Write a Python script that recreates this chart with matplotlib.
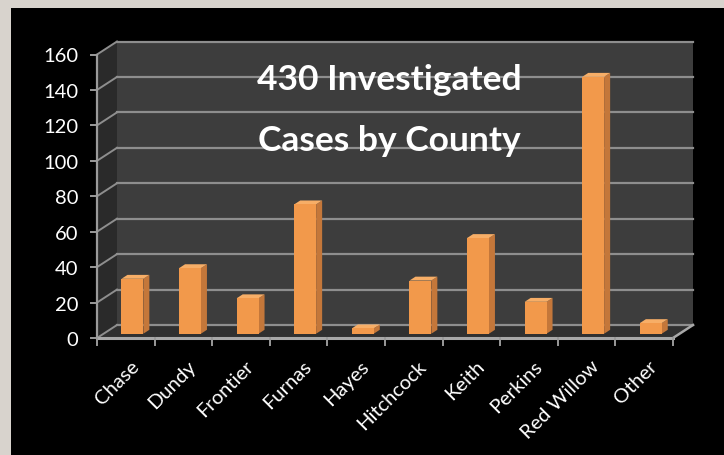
import matplotlib
matplotlib.use("Agg")
import matplotlib.pyplot as plt
from matplotlib.patches import Rectangle, Polygon

categories = ["Chase", "Dundy", "Frontier", "Furnas", "Hayes", "Hitchcock",
              "Keith", "Perkins", "Red Willow", "Other"]
values = [31, 37, 20, 73, 3, 30, 54, 18, 145, 6]
yticks = [0, 20, 40, 60, 80, 100, 120, 140, 160]
title_lines = ["430 Investigated", "Cases by County"]

W, H = 724, 456
fig = plt.figure(figsize=(W / 100, H / 100), dpi=100)
fig.patch.set_facecolor("#d8d3cd")
fig.patches.append(Rectangle((11 / W, 0), 1 - 11 / W, 1 - 9 / H,
                             transform=fig.transFigure, facecolor="black",
                             edgecolor="none", zorder=-10))

# front frame in pixels
x0, x1 = 97, 673
y0, y1 = 339, 55.5
ax = fig.add_axes([x0 / W, (H - y0) / H, (x1 - x0) / W, (y0 - y1) / H])
ax.set_zorder(5)
ax.set_xlim(0, len(categories))
ax.set_ylim(0, 160)
ax.axis("off")

pxx = (x1 - x0) / len(categories)
pxy = (y0 - y1) / 160
DX = 20 / pxx
DY = 13 / pxy
n = len(categories)
ymax = 160

grid_c = "#8e8e8e"
# back wall
ax.add_patch(Polygon([(DX, DY), (n + DX, DY), (n + DX, ymax + DY), (DX, ymax + DY)],
                     closed=True, facecolor="#3d3d3d", edgecolor="none",
                     clip_on=False, zorder=1))
# side wall
ax.add_patch(Polygon([(0, 0), (DX, DY), (DX, ymax + DY), (0, ymax)],
                     closed=True, facecolor="#2a2a2a", edgecolor="none",
                     clip_on=False, zorder=1))
# floor
ax.add_patch(Polygon([(0, 0), (n, 0), (n + DX, DY), (DX, DY)],
                     closed=True, facecolor="#303030", edgecolor="none",
                     clip_on=False, zorder=1))
for v in yticks:
    ax.plot([DX, n + DX], [v + DY, v + DY], color=grid_c, lw=1.6,
            clip_on=False, zorder=2)
    ax.plot([0, DX], [v, v + DY], color=grid_c, lw=1.4, clip_on=False, zorder=2)
    ax.plot([-6 / pxx, 0], [v, v], color="#9a9a9a", lw=1.4, clip_on=False, zorder=2)
    ax.text(-19 / pxx, v - 1.5 / pxy, str(v), color="white", fontsize=14.5,
            family="Lato", ha="right", va="center")

# front axis line & floor front edge
ax.plot([0, 0], [0, ymax], color="#9a9a9a", lw=1.6, clip_on=False, zorder=3)
ax.plot([0, n], [0, 0], color="#a8a8a8", lw=2.2, clip_on=False, zorder=3)
ax.plot([n, n + DX], [0, DY], color="#a8a8a8", lw=1.8, clip_on=False, zorder=3)
for i in range(n + 1):
    ax.plot([i, i], [0, -7 / pxy], color="#9a9a9a", lw=1.4, clip_on=False, zorder=3)

# bars
bw = 0.38
f_front, f_back = 0.33, 0.63
c_front, c_side, c_top = "#f2994b", "#c4773a", "#f7ae67"
for i, v in enumerate(values):
    cx = i + 0.5 + f_front * DX
    by = f_front * DY
    l, r = cx - bw / 2, cx + bw / 2
    ddx = (f_back - f_front) * DX
    ddy = (f_back - f_front) * DY
    ax.add_patch(Polygon([(r, by), (r + ddx, by + ddy), (r + ddx, by + v + ddy), (r, by + v)],
                         closed=True, facecolor=c_side, edgecolor="none",
                         clip_on=False, zorder=5))
    ax.add_patch(Polygon([(l, by + v), (r, by + v), (r + ddx, by + v + ddy), (l + ddx, by + v + ddy)],
                         closed=True, facecolor=c_top, edgecolor="none",
                         clip_on=False, zorder=5))
    ax.add_patch(Rectangle((l, by), bw, v, facecolor=c_front, edgecolor="none",
                           clip_on=False, zorder=6))
    ax.text(i + 0.57, -19 / pxy, categories[i], color="white", fontsize=14.5,
            family="Lato", rotation=45, ha="right", va="top",
            rotation_mode="anchor")

ax.text(5.07, 146, title_lines[0], color="white", fontsize=25.5, family="Lato",
        fontweight="bold", ha="center", va="center", zorder=8)
ax.text(5.07, 112, title_lines[1], color="white", fontsize=25.5, family="Lato",
        fontweight="bold", ha="center", va="center", zorder=8)

fig.savefig("out.png", dpi=100, facecolor=fig.get_facecolor())
